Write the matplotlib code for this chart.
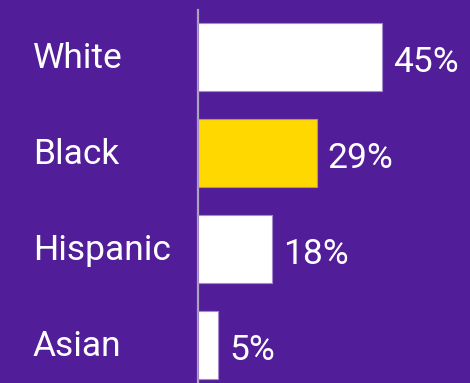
import matplotlib
matplotlib.use("Agg")
import matplotlib.pyplot as plt
import matplotlib.transforms as mtransforms

# ── Data ────────────────────────────────────────────────────────────────
groups = ["White", "Black", "Hispanic", "Asian"]
shares = [45, 29, 18, 5]
highlight = "Black"

BG = "#521d98"
YELLOW = "#ffd800"
WHITE = "#ffffff"
AXIS = "#a8a4bc"
EDGE = "#a48ccc"

plt.rcParams["font.family"] = ["Roboto", "DejaVu Sans"]

fig = plt.figure(figsize=(4.70, 3.83), dpi=100, facecolor=BG)
ax = fig.add_axes([198 / 470, 0, 272 / 470, 373 / 383])
ax.set_facecolor(BG)

y = list(range(len(groups)))
colors = [YELLOW if g == highlight else WHITE for g in groups]
ax.barh(y, shares, height=0.71, color=colors, edgecolor=EDGE, linewidth=0.8, zorder=3)

ax.set_xlim(0, 66.5)
ax.set_ylim(len(groups) - 1 + 0.396, -0.49)

for s in ["top", "right", "bottom"]:
    ax.spines[s].set_visible(False)
ax.spines["left"].set_color(AXIS)
ax.spines["left"].set_linewidth(1.6)
ax.set_xticks([])
ax.set_yticks([])

label_tf = mtransforms.blended_transform_factory(fig.transFigure, ax.transData)
for yi, g, v in zip(y, groups, shares):
    ax.text(33 / 470, yi + 0.02, g, transform=label_tf, ha="left", va="center",
            fontsize=25.5, color=WHITE)
    ax.text(v + 2.7, yi + 0.06, f"{v}%", ha="left", va="center",
            fontsize=25.5, color=WHITE)

fig.savefig("out.png", dpi=100, facecolor=BG)
